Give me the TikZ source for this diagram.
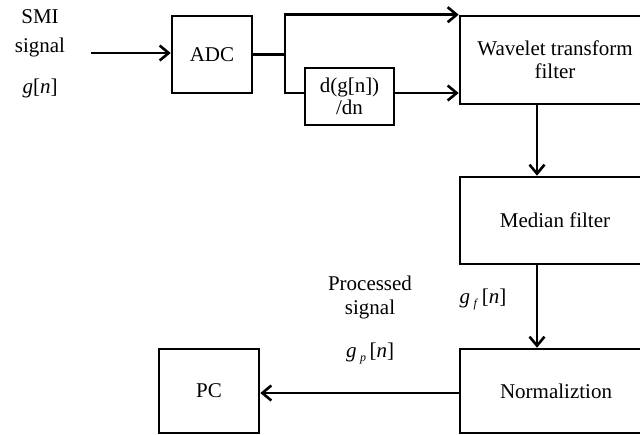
\documentclass[tikz,border=0pt]{standalone}
\usepackage{fontspec}
\setmainfont{Liberation Serif}
\usetikzlibrary{arrows.meta}
\begin{document}
\begin{tikzpicture}[x=1pt,y=-1pt,
  blk/.style={draw,line width=2.6pt,inner sep=0pt,align=center,font=\fontsize{21}{25}\selectfont},
  lbl/.style={inner sep=0pt,align=center,font=\fontsize{21}{25}\selectfont},
  conn/.style={line width=2.6pt,-{Straight Barb[length=9pt,width=15pt,line width=2.6pt]}},
  wire/.style={line width=2.6pt}]
\clip (0,0) rectangle (640,434);
\node[blk,minimum width=80pt,minimum height=77pt] (adc) at (212,54.5) {ADC};
\node[blk,minimum width=89pt,minimum height=57pt] (dbox) at (349.5,96.5) {d(g[n])\\[-3pt]/dn};
\node[blk,minimum width=190pt,minimum height=88pt] (wav) at (555,60) {Wavelet transform\\[-2pt]filter};
\node[blk,minimum width=190pt,minimum height=87pt] (med) at (555,220.5) {Median filter};
\node[blk,minimum width=192pt,minimum height=84pt] (norm) at (556,391) {Normaliztion};
\node[blk,minimum width=100pt,minimum height=84pt] (pc) at (209,391) {PC};
\node[lbl] (smi) at (40,17) {SMI};
\node[lbl] (sig) at (40,47) {signal};
\node[lbl] (gn) at (40,88) {\textit{g}[\textit{n}]};
\node[lbl] (proc) at (370,283) {Processed};
\node[lbl] (psig) at (370,309) {signal};
\node[lbl] (gp) at (370,353) {\textit{g}\,\raisebox{-4pt}{\fontsize{12}{12}\selectfont\textit{p}}\,[\textit{n}]};
\node[lbl] (gf) at (483,299) {\textit{g}\,\raisebox{-4pt}{\fontsize{12}{12}\selectfont\textit{f}}\,[\textit{n}]};
\coordinate (in) at (91,53);
\coordinate (b) at (285,54.5);
\draw[conn] (in) -- (in -| adc.west);
\draw[conn] (adc.east) -- (b) |- (wav.north west);
\draw[wire] ([yshift=1.3pt]b) |- ([yshift=3.5pt]dbox.west);
\draw[conn] ([yshift=3.5pt]dbox.east) -- ([yshift=3.5pt]dbox.east -| wav.west);
\draw[conn] ([xshift=-18pt]wav.south) -- ([xshift=-18pt]med.north);
\draw[conn] ([xshift=-18pt]med.south) -- ([xshift=-19pt]norm.north);
\draw[conn] ([yshift=-2pt]norm.west) -- ([yshift=-2pt]pc.east);
\end{tikzpicture}
\end{document}
